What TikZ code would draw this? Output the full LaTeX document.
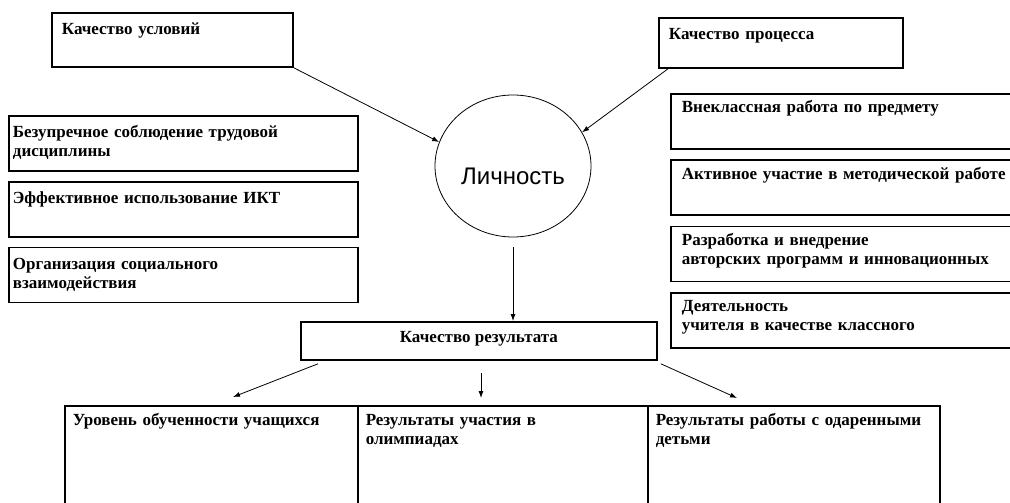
\documentclass[tikz,border=0pt]{standalone}
\usepackage{fontspec}
\setmainfont{Liberation Serif}
\newfontfamily\circfont{Liberation Sans}
\usetikzlibrary{positioning, shapes.geometric, calc, arrows.meta}

\begin{document}
\begin{tikzpicture}[x=1pt,y=-1pt,
    >={Latex[length=7pt,width=5pt]},
    box/.style={draw,line width=1.8pt,anchor=north west,align=left,inner ysep=0pt,
        font=\bfseries\fontsize{17}{19}\selectfont},
    top box/.style={box,inner xsep=10pt,text height=22pt,text depth=32pt},
    left box/.style={box,inner xsep=4pt,text width=341pt,text height=22pt,text depth=33pt},
    right box/.style={box,inner xsep=11pt,text width=338pt,text height=19pt,text depth=36pt},
    col box/.style={box,line width=1.5pt,inner xsep=8pt,text height=20pt,text depth=100pt},
    link/.style={->,line width=0.8pt}]

  \useasboundingbox (0,0) rectangle (1010,503);
  \clip (0,0) rectangle (1010,503);

  % upper row
  \node[top box,text width=221pt] (usl) at (51,12) {Качество условий};
  \node[top box,text width=224pt,text depth=28pt] (proc) at (658,17) {Качество процесса};

  \node[draw,ellipse,line width=0.8pt,minimum width=156pt,minimum height=142pt,inner sep=0pt,
        font=\circfont\fontsize{24}{28}\selectfont,text height=36pt,text depth=0pt] (lich) at (513,166) {Личность};

  % left column
  \node[left box] (l1) at (8,115) {Безупречное соблюдение трудовой\\дисциплины};
  \node[left box] (l2) [below=9pt of l1] {Эффективное использование ИКТ};
  \node[left box] (l3) [below=9pt of l2] {Организация социального\\взаимодействия};

  % right column
  \node[right box] (r1) at (670,93) {Внеклассная работа по предмету};
  \node[right box] (r2) [below=9.5pt of r1] {Активное участие в методической работе};
  \node[right box] (r3) [below=9.5pt of r2] {Разработка и внедрение\\авторских программ и инновационных};
  \node[right box] (r4) [below=9.5pt of r3] {Деятельность\\учителя в качестве классного};

  % result
  \node[box,align=center,minimum width=356pt,minimum height=38pt,inner sep=0pt,
        text height=11pt,text depth=7pt] (res) at (300,321) {Качество результата};

  \node[col box,text width=277pt] (c1) at (64,405) {Уровень обученности учащихся};
  \node[col box,text width=274pt] (c2) at (357,405) {Результаты участия в\\олимпиадах};
  \node[col box,text width=276pt] (c3) at (647,405) {Результаты работы с одаренными\\детьми};

  \coordinate (t1) at (233,397);
  \coordinate (s2) at (481,373);
  \coordinate (t2) at (481,398);
  \coordinate (t3) at (737,398);

  \draw[link] (usl.south east) -- (lich.162);
  \draw[link] ([xshift=10pt]proc.south west) -- (lich.26);
  \draw[link,shorten <=10pt] (lich.south) -- (lich.south |- res.north);
  \draw[link] ([xshift=18pt,yshift=-3pt]res.south west) -- (t1);
  \draw[link] (s2) -- (t2);
  \draw[link] ([xshift=3pt,yshift=-3pt]res.south east) -- (t3);

\end{tikzpicture}
\end{document}
